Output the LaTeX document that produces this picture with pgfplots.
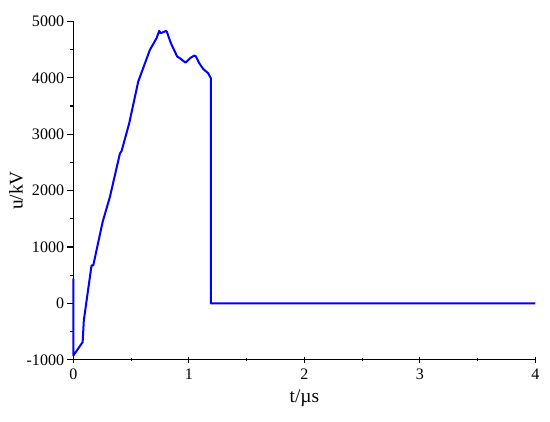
\documentclass[border=0pt]{standalone}
\usepackage{fontspec}
\setmainfont{Liberation Serif}
\usepackage{pgfplots}
\pgfplotsset{compat=1.18}
\begin{document}
\begin{tikzpicture}
\begin{axis}[
  scale only axis,
  width=346pt, height=253.5pt,
  xmin=0, xmax=4, ymin=-1000, ymax=5000,
  axis x line=bottom, axis y line=left,
  axis line style={line width=0.9pt,-},
  xtick={0,1,2,3,4}, minor xtick={0.5,1.5,2.5,3.5},
  ytick={-1000,0,1000,2000,3000,4000,5000},
  minor ytick={-500,500,1500,2500,3500,4500},
  x tick style={line width=0.9pt,black}, y tick style={line width=0.9pt,black},
  xtick align=center, ytick align=outside,
  major tick length=4.5pt, minor tick length=2.5pt,
  xticklabels={0,1,2,3,4},
  yticklabels={-1000,0,1000,2000,3000,4000,5000},
  tick label style={font=\rmfamily\fontsize{12}{13}\selectfont},
  yticklabel style={xshift=1pt},
  xticklabel style={yshift=-1pt},
  xlabel={t/µs}, ylabel={u/kV},
  label style={font=\rmfamily\fontsize{14.5}{15}\selectfont},
  xlabel style={yshift=-1pt},
  ylabel style={yshift=-4pt},
  clip=false,
]
\addplot[color={rgb,255:red,0;green,0;blue,255}, line width=1.5pt, line join=round] coordinates {
(0,440) (0,-924) (0.08,-687) (0.09,-302) (0.157,675) (0.172,675)
(0.253,1444) (0.316,1888) (0.403,2659) (0.417,2700) (0.483,3192)
(0.561,3931) (0.662,4494) (0.72,4702) (0.743,4831) (0.755,4790)
(0.78,4810) (0.80,4831) (0.81,4810) (0.844,4613) (0.899,4375) (0.922,4346)
(0.971,4268) (1.009,4346) (1.046,4393) (1.06,4380) (1.09,4257) (1.124,4156)
(1.167,4080) (1.19,3991) (1.19,0) (4,0)
};
\end{axis}
\pgfresetboundingbox
\path[use as bounding box] ([xshift=-55pt,yshift=-46pt]current axis.south west) rectangle ([xshift=11pt,yshift=16pt]current axis.north east);
\end{tikzpicture}
\end{document}
